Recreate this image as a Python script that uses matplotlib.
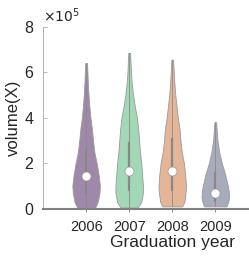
import numpy as np
import matplotlib.pyplot as plt

plt.rcParams['font.family'] = ['Liberation Sans', 'DejaVu Sans']

years = ['2006', '2007', '2008', '2009']
colors = ['#a088aa', '#a2d8b5', '#e5b598', '#a7acbd']

# violin outlines: heights (x1e5) and half widths
levels = [
    [0.05, 0.3, 0.7, 1.0, 1.5, 2.0, 2.5, 3.0, 3.5, 4.0, 4.5, 5.0, 5.5, 6.0, 6.4],
    [0.05, 0.3, 0.7, 1.0, 1.5, 2.0, 2.5, 3.0, 3.5, 4.0, 4.5, 5.0, 5.5, 6.0, 6.5, 6.85],
    [0.1, 0.3, 0.7, 1.0, 1.5, 2.0, 2.5, 3.0, 3.5, 4.0, 4.5, 5.0, 5.5, 6.0, 6.55],
    [0.1, 0.3, 0.5, 0.8, 1.0, 1.5, 2.0, 2.5, 3.0, 3.4, 3.8],
]
half_widths = [
    [0.21, 0.27, 0.31, 0.32, 0.29, 0.245, 0.19, 0.16, 0.135, 0.10, 0.075, 0.055, 0.04, 0.03, 0.02],
    [0.20, 0.28, 0.32, 0.32, 0.30, 0.28, 0.25, 0.23, 0.21, 0.18, 0.13, 0.09, 0.06, 0.04, 0.03, 0.02],
    [0.23, 0.28, 0.31, 0.32, 0.30, 0.27, 0.22, 0.19, 0.17, 0.13, 0.10, 0.07, 0.05, 0.035, 0.02],
    [0.26, 0.30, 0.32, 0.31, 0.29, 0.23, 0.15, 0.09, 0.05, 0.035, 0.02],
]
medians = [1.42, 1.65, 1.65, 0.68]
q1 = [0.7, 0.8, 0.8, 0.35]
q3 = [2.6, 2.9, 3.05, 1.55]
lows = [0.05, 0.05, 0.1, 0.1]
highs = [6.4, 6.85, 6.55, 3.8]

fig = plt.figure(figsize=(2.49, 2.57), dpi=100)
ax = fig.add_axes([0.173, 0.188, 0.83, 0.708])

for i in range(len(years)):
    x = i + 1
    y = np.array(levels[i])
    w = np.array(half_widths[i])
    ax.fill_betweenx(y, x - w, x + w, facecolor=colors[i], edgecolor='#9a9a9a',
                     linewidth=0.6, zorder=2)
    ax.plot([x, x], [lows[i], highs[i]], color='#8a8a8a', lw=0.6, zorder=3)
    ax.plot([x, x], [q1[i], q3[i]], color='#888888', lw=1.6, zorder=3)
    ax.plot(x, medians[i], 'o', ms=6.5, mfc='white', mec='#999999', mew=0.5, zorder=4)

ax.set_xlim(0, 4.8)
ax.set_ylim(0, 8)
ax.set_xticks([1, 2, 3, 4])
ax.set_xticklabels(years)
ax.set_yticks([0, 2, 4, 6, 8])

for s in ['top', 'right']:
    ax.spines[s].set_visible(False)
ax.spines['left'].set_color('#b0b0b0')
ax.spines['left'].set_linewidth(0.7)
ax.spines['bottom'].set_color('#808080')
ax.spines['bottom'].set_linewidth(1.5)

ax.tick_params(axis='y', direction='in', length=3, width=0.6, color='#b0b0b0',
               labelsize=11.5, labelcolor='#262626', pad=7)
ax.tick_params(axis='x', direction='out', length=2, width=0.6, color='#808080',
               labelsize=10.5, labelcolor='#262626', pad=6.5)

ax.set_ylabel('volume(X)', fontsize=12, color='#262626')
ax.yaxis.set_label_coords(-0.105, 0.5)
ax.set_xlabel('Graduation year', fontsize=12.5, color='#262626')
ax.xaxis.set_label_coords(0.627, -0.145)

ax.text(0.0, 1.01, r'$\times10^5$', transform=ax.transAxes, fontsize=10,
        color='#262626', ha='left', va='bottom')

fig.savefig('out.png', dpi=100)
